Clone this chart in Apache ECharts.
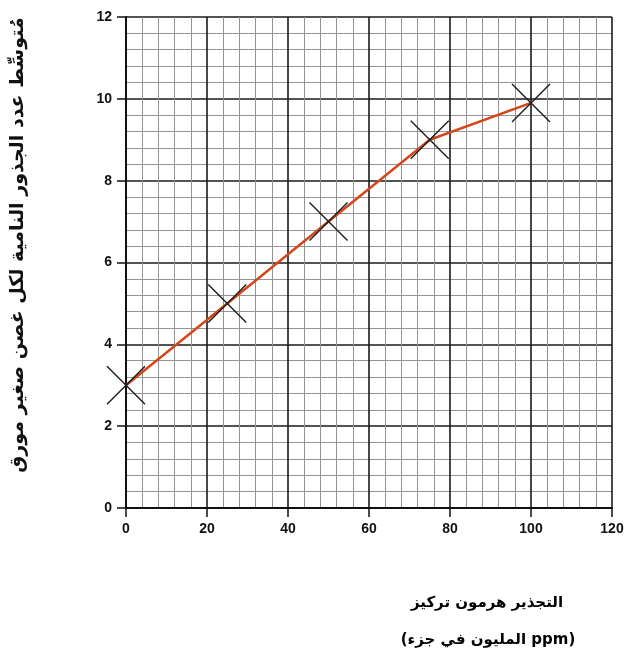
<!DOCTYPE html>
<html dir="ltr">
<head>
<meta charset="utf-8">
<script src="https://cdn.jsdelivr.net/npm/echarts@6/dist/echarts.min.js"></script>
<style>html,body{margin:0;padding:0;background:#fff}#c{width:630px;height:669px}</style>
</head>
<body>
<div id="c"></div>
<script>
const concentrations = [0, 25, 50, 75, 100];
const meanRoots = [3, 5, 7, 9, 9.9];
const xTicks = [0, 20, 40, 60, 80, 100, 120];
const yTicks = [0, 2, 4, 6, 8, 10, 12];
const yTitle = 'مُتوسِّط عدد الجذور النامية لكل غصن صغير مورق';
const xTitleWords1 = ['تركيز', 'هرمون', 'التجذير'];
const xTitleWords2 = ['جزء', 'في', 'المليون', 'ppm'];

// the reference prints the x-axis title words in left-to-right visual order:
// each word is its own rich-text token, laid out left to right.
const tok = w => '{t|' + w + '}';
const xTitle1 = xTitleWords1.map(tok).join(tok(' '));
const xTitle2 = tok('(') + xTitleWords2.map(tok).join(tok(' ')) + tok(')');

const chart = echarts.init(document.getElementById('c'));
const lbl = {color: '#111', fontSize: 14, fontWeight: 'bold', fontFamily: 'Liberation Sans, Arial'};
const axisCommon = {
  type: 'value',
  axisLine: {show: true, lineStyle: {color: '#111', width: 2}},
  axisTick: {show: true, length: 9, lineStyle: {color: '#111', width: 1.5}},
  splitLine: {show: true, lineStyle: {color: '#1a1a1a', width: 1.6}},
  minorTick: {show: true, splitNumber: 5, length: 0, lineStyle: {opacity: 0}},
  minorSplitLine: {show: true, lineStyle: {color: '#939393', width: 1}}
};
const titleRich = {t: {fontSize: 15, fontWeight: 'bold', fontFamily: 'DejaVu Sans', color: '#111'}};
chart.setOption({
  animation: false,
  backgroundColor: '#fff',
  grid: {left: 126, right: 18, top: 17, bottom: 161, containLabel: false, outerBoundsMode: 'none'},
  xAxis: Object.assign({}, axisCommon, {
    min: xTicks[0], max: xTicks[xTicks.length - 1], interval: xTicks[1] - xTicks[0],
    axisLabel: Object.assign({margin: 14}, lbl)
  }),
  yAxis: Object.assign({}, axisCommon, {
    min: yTicks[0], max: yTicks[yTicks.length - 1], interval: yTicks[1] - yTicks[0],
    axisLabel: Object.assign({margin: 14, padding: [0, 0, 4, 0]}, lbl)
  }),
  graphic: [
    {type: 'text', x: 18, y: 245, rotation: Math.PI / 2,
     style: {text: yTitle, x: 0, y: 0, align: 'center', verticalAlign: 'middle', fill: '#111', font: 'bold 19px "DejaVu Sans"'}},
    {type: 'text', x: 487, y: 603,
     style: {text: xTitle1, rich: titleRich, x: 0, y: 0, align: 'center', verticalAlign: 'middle'}},
    {type: 'text', x: 488, y: 640,
     style: {text: xTitle2, rich: titleRich, x: 0, y: 0, align: 'center', verticalAlign: 'middle'}}
  ],
  series: [{
    type: 'line',
    data: concentrations.map((c, i) => [c, meanRoots[i]]),
    lineStyle: {color: '#d4471b', width: 2.5},
    symbol: 'path://M0,0L10,10M10,0L0,10',
    symbolSize: 38,
    itemStyle: {color: 'none', borderColor: '#1a1a1a', borderWidth: 1.4},
    z: 5
  }]
});
</script>
</body>
</html>
